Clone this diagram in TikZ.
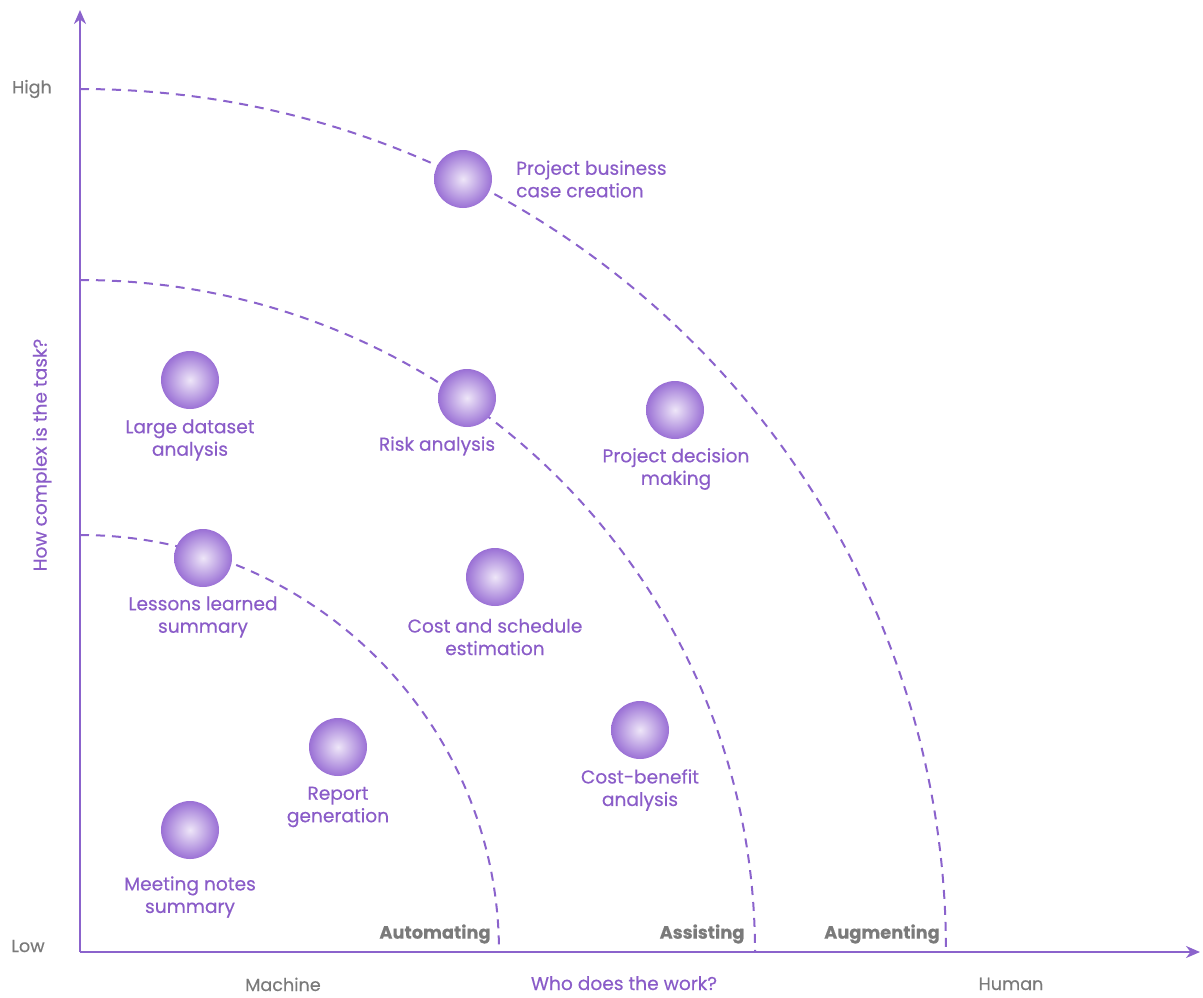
\documentclass[tikz,border=0pt]{standalone}
\usepackage{fontspec}
\setmainfont{Poppins}[FakeBold=0.35]
\usetikzlibrary{arrows.meta}
\definecolor{pur}{HTML}{8B63CC}
\definecolor{ptext}{HTML}{8A5CC8}
\definecolor{gtext}{HTML}{7A7A7A}
\definecolor{cin}{HTML}{EEE6F8}
\definecolor{cout}{HTML}{9A70D5}
\tikzset{
  axis/.style={draw=pur, line width=2.4pt, -{Stealth[length=14pt,width=12pt]}},
  ring/.style={draw=pur, line width=2pt, dash pattern=on 9pt off 7pt},
  ball/.style={circle, minimum size=58pt, inner sep=0pt, draw=none, inner color=cin, outer color=cout},
  lbl/.style={text=ptext, font=\fontsize{18.6}{22.5}\selectfont, align=center, inner sep=0pt},
  zone/.style={text=gtext, font=\fontsize{17.8}{20}\selectfont\bfseries, inner sep=0pt},
  gl/.style={text=gtext, font=\fontsize{17.6}{20}\selectfont, inner sep=0pt},
}
\begin{document}
\begin{tikzpicture}[x=1pt,y=-1pt]
\useasboundingbox (0,0) rectangle (1203,997);
\coordinate (O) at (80,952);
\coordinate (ytip) at (80,10);
\coordinate (xtip) at (1200,952);
% rings
\draw[ring] (80,535) arc[start angle=-90, end angle=0, x radius=419, y radius=417];
\draw[ring] (80,280) arc[start angle=-90, end angle=0, x radius=675, y radius=672];
\draw[ring] (80,89) arc[start angle=-90, end angle=0, x radius=866, y radius=863];
% axes
\draw[axis] (O) -- (ytip);
\draw[axis] (O) -- (xtip);
% balls
\node[ball] (b1) at (463,179) {};
\node[ball] (b2) at (190,380) {};
\node[ball] (b3) at (467,398) {};
\node[ball] (b4) at (675,410) {};
\node[ball] (b5) at (203,558) {};
\node[ball] (b6) at (495,577) {};
\node[ball] (b7) at (640,730) {};
\node[ball] (b8) at (338,747) {};
\node[ball] (b9) at (190,830) {};
% labels
\node[lbl, anchor=west, align=left] (l1) at (516,179) {Project business\\case creation};
\node[lbl] (l2) at (190,440) {Large dataset\\analysis};
\node[lbl] (l3) at (437,446) {Risk analysis};
\node[lbl] (l4) at (676,469) {Project decision\\making};
\node[lbl] (l5) at (203,617) {Lessons learned\\summary};
\node[lbl] (l6) at (495,637) {Cost and schedule\\estimation};
\node[lbl] (l7) at (640,790) {Cost-benefit\\analysis};
\node[lbl] (l8) at (338,807) {Report\\generation};
\node[lbl] (l9) at (190,897) {Meeting notes\\summary};
% zones
\node[zone] (z1) at (435,934) {Automating};
\node[zone] (z2) at (702,934) {Assisting};
\node[zone] (z3) at (882,934) {Augmenting};
% axis labels
\node[gl] (high) at (32,89) {High};
\node[gl] (low) at (28,946) {Low};
\node[gl, anchor=base] (mach) at (283,991) {Machine};
\node[gl, anchor=base] (hum) at (1011,990) {Human};
\node[lbl, anchor=base] (who) at (624,990) {Who does the work?};
\node[lbl, rotate=90] (how) at (42,455) {How complex is the task?};
\end{tikzpicture}
\end{document}
